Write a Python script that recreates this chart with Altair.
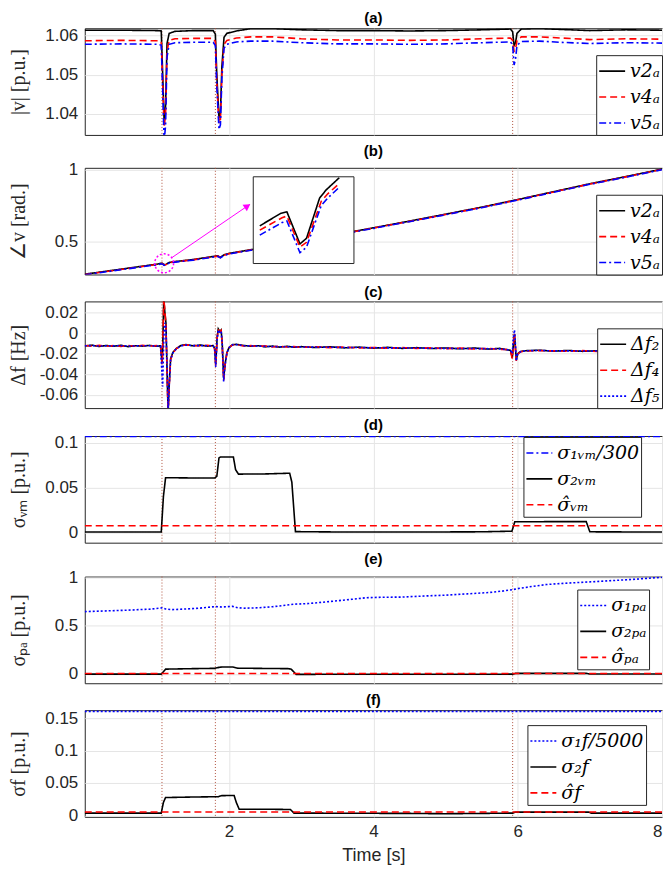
import altair as alt
import pandas as pd

# ---------------- data ----------------
EVENTS = [1.07, 1.81, 5.93]

# (a) voltage magnitude
A_T = [0, 0.5, 1.0, 1.06, 1.08, 1.10, 1.12, 1.14, 1.17, 1.25, 1.5, 1.78, 1.81, 1.83, 1.86, 1.88,
       1.90, 1.93, 1.97, 2.1, 2.3, 2.6, 3.0, 3.5, 4.0, 4.5, 5.0, 5.5, 5.9, 5.93, 5.95, 5.97, 5.99,
       6.05, 6.3, 6.6, 7.0, 7.5, 8.0]
A_V2 = [1.0614, 1.0614, 1.0613, 1.0612, 1.0500, 1.0380, 1.0420, 1.0580, 1.0606, 1.0611, 1.0613,
        1.0613, 1.0604, 1.0500, 1.0390, 1.0400, 1.0520, 1.0596, 1.0606, 1.0612, 1.0618, 1.0618,
        1.0615, 1.0613, 1.0613, 1.0612, 1.0613, 1.0615, 1.0617, 1.0610, 1.0575, 1.0582, 1.0606,
        1.0617, 1.0618, 1.0616, 1.0613, 1.0615, 1.0614]
A_V4 = [1.0587, 1.0588, 1.0587, 1.0585, 1.0480, 1.0365, 1.0400, 1.0560, 1.0588, 1.0592, 1.0593,
        1.0593, 1.0585, 1.0480, 1.0375, 1.0385, 1.0500, 1.0578, 1.0588, 1.0594, 1.0597, 1.0597,
        1.0592, 1.0589, 1.0589, 1.0588, 1.0589, 1.0592, 1.0594, 1.0588, 1.0560, 1.0565, 1.0588,
        1.0597, 1.0597, 1.0594, 1.0590, 1.0592, 1.0591]
A_V5 = [1.0578, 1.0579, 1.0578, 1.0576, 1.0460, 1.0330, 1.0370, 1.0545, 1.0578, 1.0582, 1.0583,
        1.0583, 1.0575, 1.0470, 1.0360, 1.0372, 1.0490, 1.0568, 1.0578, 1.0584, 1.0586, 1.0586,
        1.0582, 1.0579, 1.0579, 1.0578, 1.0579, 1.0582, 1.0584, 1.0577, 1.0525, 1.0540, 1.0575,
        1.0585, 1.0586, 1.0583, 1.0580, 1.0582, 1.0581]

# (b) voltage angle
B_T = [0, 0.5, 1.0, 1.07, 1.10, 1.13, 1.17, 1.25, 1.5, 1.8, 1.84, 1.88, 1.93, 2.0, 2.5, 3.0,
       3.5, 4.0, 4.5, 5.0, 5.5, 6.0, 6.5, 7.0, 7.5, 8.0]
B_V2 = [0.270, 0.305, 0.340, 0.347, 0.336, 0.340, 0.352, 0.358, 0.372, 0.395, 0.398, 0.388, 0.405,
        0.415, 0.458, 0.502, 0.547, 0.593, 0.640, 0.688, 0.737, 0.790, 0.845, 0.900, 0.950, 1.002]
B_V4 = [0.268, 0.303, 0.338, 0.345, 0.334, 0.338, 0.350, 0.356, 0.370, 0.393, 0.396, 0.386, 0.403,
        0.413, 0.456, 0.500, 0.545, 0.591, 0.638, 0.686, 0.735, 0.788, 0.843, 0.898, 0.948, 1.000]
B_V5 = [0.266, 0.301, 0.336, 0.343, 0.332, 0.336, 0.348, 0.354, 0.368, 0.391, 0.394, 0.384, 0.401,
        0.411, 0.454, 0.498, 0.543, 0.589, 0.636, 0.684, 0.733, 0.786, 0.841, 0.896, 0.946, 0.998]

# inset of (b): zoom of the dip (normalised inset coordinates)
IN_T2 = [0.065, 0.270, 0.334, 0.464, 0.529, 0.659, 0.724, 0.854]
IN_V2 = [0.434, 0.577, 0.596, 0.226, 0.291, 0.755, 0.849, 0.989]
IN_T4 = [0.065, 0.286, 0.334, 0.464, 0.529, 0.675, 0.740, 0.838]
IN_V4 = [0.385, 0.528, 0.547, 0.189, 0.245, 0.717, 0.804, 0.906]
IN_T5 = [0.065, 0.286, 0.334, 0.464, 0.529, 0.675, 0.740, 0.854]
IN_V5 = [0.328, 0.472, 0.491, 0.125, 0.189, 0.668, 0.755, 0.879]

# (c) frequency deviation
C_T = [0.0, 0.1, 0.2, 0.3, 0.4, 0.5, 0.6, 0.7, 0.8, 0.9, 1.0, 1.05, 1.07, 1.08, 1.095, 1.11, 1.125,
       1.14, 1.155, 1.17, 1.19, 1.22, 1.27, 1.33, 1.4, 1.5, 1.6, 1.7, 1.78, 1.80, 1.815, 1.835, 1.85,
       1.87, 1.89, 1.905, 1.925, 1.945, 1.97, 2.0, 2.05, 2.1, 2.2, 2.3, 2.4, 2.5, 2.6, 2.7, 2.8, 2.9,
       3.0, 3.2, 3.4, 3.6, 3.8, 4.0, 4.2, 4.4, 4.6, 4.8, 5.0, 5.2, 5.4, 5.6, 5.75, 5.85, 5.9, 5.925,
       5.94, 5.955, 5.965, 5.98, 6.0, 6.04, 6.1, 6.3, 6.5, 6.7, 6.9, 7.1, 7.3, 7.5, 7.7, 7.85, 8.0]
C_F2 = [-0.0125, -0.0118, -0.0131, -0.0121, -0.0128, -0.0119, -0.0132, -0.0123, -0.0127, -0.0120,
        -0.0129, -0.0124, -0.0280, -0.0150, 0.0330, 0.0200, 0.0100, -0.0350, -0.0780, -0.0500,
        -0.0250, -0.0190, -0.0150, -0.0122, -0.0112, -0.0124, -0.0117, -0.0128, -0.0122, -0.0150,
        -0.0300, -0.0040, 0.0040, 0.0015, 0.0030, -0.0100, -0.0440, -0.0300, -0.0190, -0.0140,
        -0.0112, -0.0110, -0.0121, -0.0128, -0.0123, -0.0134, -0.0127, -0.0137, -0.0129, -0.0138,
        -0.0132, -0.0141, -0.0134, -0.0144, -0.0137, -0.0147, -0.0139, -0.0149, -0.0142, -0.0151,
        -0.0145, -0.0153, -0.0146, -0.0156, -0.0149, -0.0162, -0.0168, -0.0240, -0.0120, -0.0010,
        -0.0100, -0.0260, -0.0200, -0.0180, -0.0172, -0.0167, -0.0176, -0.0169, -0.0178, -0.0172,
        -0.0181, -0.0177, -0.0186, -0.0184, -0.0190]
C_F4 = [-0.0121, -0.0127, -0.0120, -0.0129, -0.0122, -0.0130, -0.0121, -0.0128, -0.0119, -0.0127,
        -0.0122, -0.0127, -0.0300, -0.0200, 0.0340, 0.0220, 0.0080, -0.0380, -0.0790, -0.0520,
        -0.0260, -0.0195, -0.0152, -0.0125, -0.0115, -0.0120, -0.0126, -0.0119, -0.0127, -0.0155,
        -0.0320, -0.0050, 0.0035, 0.0010, 0.0025, -0.0110, -0.0460, -0.0310, -0.0195, -0.0142,
        -0.0115, -0.0113, -0.0126, -0.0122, -0.0131, -0.0125, -0.0135, -0.0128, -0.0136, -0.0131,
        -0.0139, -0.0133, -0.0142, -0.0136, -0.0145, -0.0140, -0.0148, -0.0141, -0.0150, -0.0144,
        -0.0152, -0.0147, -0.0155, -0.0149, -0.0158, -0.0160, -0.0170, -0.0250, -0.0130, -0.0005,
        -0.0110, -0.0270, -0.0205, -0.0182, -0.0175, -0.0171, -0.0173, -0.0178, -0.0171, -0.0179,
        -0.0176, -0.0183, -0.0180, -0.0188, -0.0189]
C_F5 = [-0.0124, -0.0122, -0.0127, -0.0124, -0.0125, -0.0123, -0.0127, -0.0125, -0.0124, -0.0124,
        -0.0126, -0.0125, -0.0400, -0.0520, -0.0050, 0.0100, 0.0050, -0.0300, -0.0760, -0.0520,
        -0.0260, -0.0195, -0.0153, -0.0126, -0.0116, -0.0122, -0.0122, -0.0123, -0.0125, -0.0160,
        -0.0330, -0.0060, 0.0030, 0.0010, 0.0020, -0.0105, -0.0470, -0.0310, -0.0195, -0.0143,
        -0.0114, -0.0112, -0.0123, -0.0125, -0.0127, -0.0130, -0.0131, -0.0133, -0.0133, -0.0135,
        -0.0136, -0.0137, -0.0138, -0.0140, -0.0141, -0.0143, -0.0144, -0.0145, -0.0146, -0.0148,
        -0.0149, -0.0150, -0.0151, -0.0152, -0.0154, -0.0161, -0.0168, -0.0200, -0.0050, 0.0030,
        -0.0060, -0.0270, -0.0205, -0.0181, -0.0173, -0.0169, -0.0174, -0.0173, -0.0175, -0.0175,
        -0.0178, -0.0179, -0.0183, -0.0186, -0.0189]

# (d) sigma vm
D_T1 = [0, 8]
D_S1 = [0.1068, 0.1068]
D_T2 = [0, 1.06, 1.09, 1.12, 1.5, 1.80, 1.83, 1.86, 1.88, 2.06, 2.09, 2.13, 2.5, 2.84, 2.87, 2.92,
        3.5, 4.5, 5.5, 5.92, 5.96, 6.5, 6.95, 7.0, 8.0]
D_S2 = [0.0005, 0.0005, 0.040, 0.0610, 0.0607, 0.0607, 0.0625, 0.0830, 0.0840, 0.0840, 0.0700,
        0.0650, 0.0652, 0.0660, 0.0560, 0.0010, 0.0006, 0.0005, 0.0008, 0.0015, 0.0120, 0.0121,
        0.0121, 0.0008, 0.0005]
D_TH = [0, 8]
D_SH = [0.0075, 0.0075]

# (e) sigma pa
E_T1 = [0, 0.3, 0.6, 0.9, 1.07, 1.12, 1.2, 1.4, 1.6, 1.81, 1.9, 2.05, 2.12, 2.2, 2.4, 2.6, 2.8, 2.9,
        3.1, 3.3, 3.5, 3.7, 3.9, 4.1, 4.4, 4.7, 5.0, 5.3, 5.6, 5.8, 5.93, 6.0, 6.2, 6.4, 6.7, 7.0, 7.3,
        7.6, 8.0]
E_S1 = [0.645, 0.652, 0.660, 0.670, 0.683, 0.672, 0.665, 0.672, 0.681, 0.697, 0.692, 0.699, 0.685,
        0.680, 0.684, 0.695, 0.712, 0.722, 0.728, 0.742, 0.757, 0.772, 0.788, 0.793, 0.795, 0.806,
        0.815, 0.828, 0.842, 0.858, 0.872, 0.882, 0.905, 0.925, 0.940, 0.952, 0.965, 0.978, 1.000]
E_T2 = [0, 1.06, 1.12, 1.5, 1.80, 1.86, 1.90, 2.05, 2.12, 2.5, 2.82, 2.86, 2.93, 4.0, 5.0, 5.93,
        5.97, 6.95, 7.0, 8.0]
E_S2 = [-0.002, -0.002, 0.050, 0.055, 0.058, 0.068, 0.072, 0.072, 0.060, 0.057, 0.055, 0.050,
        -0.004, -0.003, -0.003, -0.002, 0.006, 0.006, 0.000, 0.000]
E_TH = [0, 8]
E_SH = [0.005, 0.005]

# (f) sigma f
F_T1 = [0, 8]
F_S1 = [0.1605, 0.1605]
F_T2 = [0, 1.06, 1.09, 1.12, 1.5, 1.85, 1.9, 2.07, 2.1, 2.14, 2.5, 2.85, 2.9, 3.5, 4.5, 5.0, 5.5,
        5.93, 5.97, 6.5, 6.98, 7.02, 8.0]
F_S2 = [0.0035, 0.0035, 0.020, 0.0275, 0.0283, 0.0288, 0.0305, 0.0306, 0.020, 0.0095, 0.0095,
        0.0090, 0.0035, 0.0033, 0.0030, 0.0025, 0.0030, 0.0035, 0.0050, 0.0050, 0.0050, 0.0035,
        0.0035]
F_TH = [0, 8]
F_SH = [0.0052, 0.0052]


def frame(parts):
    rows = []
    for name, ts, vs in parts:
        for t, v in zip(ts, vs):
            rows.append({"t": t, "v": v, "s": name})
    return pd.DataFrame(rows)


BLACK, RED, BLUE = "#000000", "#ff0000", "#0000ff"
SOLID, DASH, DASHDOT, DOT = [1, 0], [7, 4], [7, 3, 2, 3], [2, 2]
EVC = "#b0503c"
MAG = "#ff00ff"
W, H = 579, 107
XDOM = [0, 8]
EV_DF = pd.DataFrame({"t": EVENTS})
LABEL_EXPR = "replace(format(datum.value, '~g'), '\u2212', '-')"


def x_axis(last):
    if last:
        return alt.Axis(values=[2, 4, 6, 8], grid=True, ticks=False, domain=False,
                        labelFlush=True, labelPadding=7, labelExpr=LABEL_EXPR, title="Time [s]",
                        titleFont="Liberation Sans", titleFontSize=18, titlePadding=7)
    return alt.Axis(values=[2, 4, 6, 8], grid=True, ticks=False, domain=False,
                    labels=False, title=None)


def y_axis(ticks, title):
    return alt.Axis(values=ticks, grid=True, ticks=False, domain=False, labelFlush=False,
                    labelPadding=7, labelExpr=LABEL_EXPR,
                    title=title, titleAngle=270, titleX=-66, titleY=H / 2,
                    titleAlign="center", titleBaseline="middle")


def panel(df, names, colors, dashes, ydom, yticks, ytitle, ttl, legend, last=False,
          extras=(), inset=None):
    xs = alt.Scale(domain=XDOM, nice=False, zero=False)
    ys = alt.Scale(domain=ydom, nice=False, zero=False)
    X = alt.X("t:Q", scale=xs, axis=x_axis(last))
    Y = alt.Y("v:Q", scale=ys, axis=y_axis(yticks, ytitle))
    color = alt.Color("s:N", scale=alt.Scale(domain=names, range=colors), legend=legend)
    dash = alt.StrokeDash("s:N", scale=alt.Scale(domain=names, range=dashes), legend=legend)
    rules = alt.Chart(EV_DF).mark_rule(color=EVC, strokeDash=[1, 2], strokeWidth=1).encode(x=X)
    lines = alt.Chart(df).mark_line(strokeWidth=1.6, clip=True).encode(
        x=X, y=Y, color=color, strokeDash=dash)
    layers = [rules, lines] + [e(X, Y) for e in extras]
    ch = alt.layer(*layers)
    if inset is not None:
        ch = alt.layer(ch, inset(color, dash)).resolve_scale(x="independent", y="independent")
    return ch.properties(width=W, height=H, title=ttl)


# ---- panel (a)
names_a = ["v2\u2090", "v4\u2090", "v5\u2090"]
df_a = frame([(names_a[0], A_T, A_V2), (names_a[1], A_T, A_V4), (names_a[2], A_T, A_V5)])
pa = panel(df_a, names_a, [BLACK, RED, BLUE], [SOLID, DASH, DASHDOT], [1.0346, 1.0619],
           [1.04, 1.05, 1.06], "|v| [p.u.]", "(a)",
           alt.Legend(orient="bottom-right", offset=0, title=None))

# ---- panel (b)
df_b = frame([(names_a[0], B_T, B_V2), (names_a[1], B_T, B_V4), (names_a[2], B_T, B_V5)])
df_in = frame([(names_a[0], IN_T2, IN_V2), (names_a[1], IN_T4, IN_V4), (names_a[2], IN_T5, IN_V5)])
CIRCLE = pd.DataFrame({"t": [1.10], "v": [0.346]})
ARROW = pd.DataFrame({"t": [1.203], "v": [0.384], "t2": [2.29], "v2": [0.757]})
HEAD = pd.DataFrame({"t": [2.255], "v": [0.744]})
INBOX = pd.DataFrame({"x0": [0], "x1": [1], "y0": [0], "y1": [1]})


def circle_layer(X, Y):
    return alt.Chart(CIRCLE).mark_point(shape="circle", size=360, filled=False, color=MAG,
                                         strokeWidth=1.5, strokeDash=[2, 2], opacity=1).encode(x=X, y=Y)


def arrow_layer(X, Y):
    return alt.Chart(ARROW).mark_rule(color=MAG, strokeWidth=1).encode(
        x=X, y=Y, x2="t2:Q", y2="v2:Q")


def head_layer(X, Y):
    return alt.Chart(HEAD).mark_point(shape="triangle-up", size=60, filled=True, color=MAG,
                                       angle=56, opacity=1).encode(x=X, y=Y)


def inset_layer(color, dash):
    ixs = alt.Scale(domain=[0, 1], range=[169, 270], nice=False, zero=False)
    iys = alt.Scale(domain=[0, 1], range=[96, 9], nice=False, zero=False)
    box = alt.Chart(INBOX).mark_rect(fill="white", stroke="#262626", strokeWidth=1).encode(
        x=alt.X("x0:Q", scale=ixs, axis=None), x2="x1:Q",
        y=alt.Y("y0:Q", scale=iys, axis=None), y2="y1:Q")
    ln = alt.Chart(df_in).mark_line(strokeWidth=1.6).encode(
        x=alt.X("t:Q", scale=ixs, axis=None), y=alt.Y("v:Q", scale=iys, axis=None),
        color=color, strokeDash=dash)
    return alt.layer(box, ln)


pb = panel(df_b, names_a, [BLACK, RED, BLUE], [SOLID, DASH, DASHDOT], [0.268, 1.011],
           [0.5, 1], "\u2220v [rad.]", "(b)",
           alt.Legend(orient="bottom-right", offset=0, title=None),
           extras=(circle_layer, arrow_layer, head_layer), inset=inset_layer)

# ---- panel (c)
names_c = ["\u0394f\u2082", "\u0394f\u2084", "\u0394f\u2085"]
df_c = frame([(names_c[0], C_T, C_F2), (names_c[1], C_T, C_F4), (names_c[2], C_T, C_F5)])
pc = panel(df_c, names_c, [BLACK, RED, BLUE], [SOLID, DASH, DOT], [-0.0729, 0.0307],
           [-0.06, -0.04, -0.02, 0, 0.02], "\u0394f [Hz]", "(c)",
           alt.Legend(orient="bottom-right", offset=0, title=None))

# ---- panel (d)
names_d = ["\u03c3\u2081\u1d65\u2098/300", "\u03c3\u2082\u1d65\u2098", "\u03c3\u0302\u1d65\u2098"]
df_d = frame([(names_d[0], D_T1, D_S1), (names_d[1], D_T2, D_S2), (names_d[2], D_TH, D_SH)])
pd_ = panel(df_d, names_d, [BLUE, BLACK, RED], [DASHDOT, SOLID, DASH], [-0.0113, 0.1074],
            [0, 0.05, 0.1], "\u03c3\u1d65\u2098 [p.u.]", "(d)",
            alt.Legend(orient="none", legendX=440, legendY=1, title=None))

# ---- panel (e)
names_e = ["\u03c3\u2081\u209a\u2090", "\u03c3\u2082\u209a\u2090", "\u03c3\u0302\u209a\u2090"]
df_e = frame([(names_e[0], E_T1, E_S1), (names_e[1], E_T2, E_S2), (names_e[2], E_TH, E_SH)])
pe = panel(df_e, names_e, [BLUE, BLACK, RED], [DOT, SOLID, DASH], [-0.096, 1.007],
           [0, 0.5, 1], "\u03c3\u209a\u2090 [p.u.]", "(e)",
           alt.Legend(orient="none", legendX=494, legendY=13, title=None))

# ---- panel (f)
names_f = ["\u03c3\u2081f/5000", "\u03c3\u2082f", "\u03c3\u0302f"]
df_f = frame([(names_f[0], F_T1, F_S1), (names_f[1], F_T2, F_S2), (names_f[2], F_TH, F_SH)])
pf = panel(df_f, names_f, [BLUE, BLACK, RED], [DOT, SOLID, DASH], [-0.0023, 0.1624],
           [0, 0.05, 0.1, 0.15], "\u03c3f [p.u.]", "(f)",
           alt.Legend(orient="none", legendX=444, legendY=15, title=None), last=True)

chart = alt.vconcat(pa, pb, pc, pd_, pe, pf, spacing=8).resolve_scale(
    x="independent", y="independent", color="independent", strokeDash="independent"
).properties(
    padding={"left": 0, "top": 0, "right": 0, "bottom": 0}
).configure_view(
    stroke="#262626", strokeWidth=1
).configure_axis(
    labelFont="Liberation Sans", labelFontSize=17, labelColor="#262626",
    titleFont="Liberation Serif", titleFontSize=20, titleFontWeight="normal",
    titleColor="#262626", gridColor="#e5e5e5", gridWidth=1
).configure_title(
    font="Liberation Sans", fontSize=15, fontWeight="bold", color="#000000",
    offset=1, frame="group", anchor="middle"
).configure_legend(
    symbolType="stroke", symbolSize=676, symbolStrokeWidth=1.6,
    labelFont="DejaVu Serif", labelFontSize=19, labelFontStyle="italic",
    labelColor="#000000", strokeColor="#262626", fillColor="white", padding=2,
    rowPadding=2, labelOffset=4, labelLimit=300, cornerRadius=0
)

chart.save("out.html", embed_options={"renderer": "svg", "actions": False})
